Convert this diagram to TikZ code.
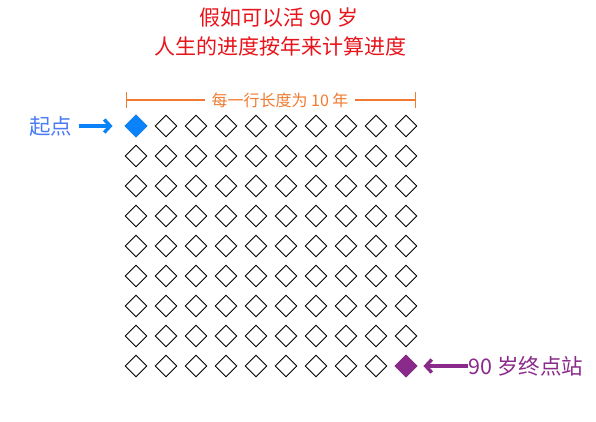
\documentclass[tikz,border=0pt]{standalone}
\usepackage{fontspec}
\setmainfont{Noto Sans CJK SC}
\usetikzlibrary{shapes.geometric, arrows.meta, positioning}

\definecolor{titlered}{HTML}{E8141B}
\definecolor{rulerorange}{HTML}{F07A30}
\definecolor{startblue}{HTML}{0A82FA}
\definecolor{starttext}{HTML}{4B7CF5}
\definecolor{endpurple}{HTML}{8A2A8A}

\begin{document}
\begin{tikzpicture}[
    x=1pt, y=-1pt,
    title/.style={text=titlered, font=\fontsize{21pt}{25pt}\selectfont, inner sep=0pt},
    year/.style={diamond, draw=black, line width=0.9pt, minimum width=22pt, minimum height=22pt, inner sep=0pt},
    ruler/.style={draw=rulerorange, line width=1.4pt},
    rulertext/.style={text=rulerorange, font=\fontsize{16pt}{19pt}\selectfont, inner sep=6pt},
    marktext/.style={font=\fontsize{21.5pt}{25pt}\selectfont, inner sep=0pt},
    markarrow/.style={line width=3.4pt, -{Straight Barb[length=6pt, width=13pt]}}
]
\useasboundingbox (0,0) rectangle (596,422);

% Title
\node[title] (title1) at (279,18) {假如可以活 90 岁};
\node[title] (title2) at (280,46) {人生的进度按年来计算进度};

% One diamond per year
\foreach \r in {1,...,9}
  \foreach \c in {1,...,10}
    \node[year] (d-\r-\c) at ({136+30*(\c-1)}, {126+30*(\r-1)}) {};

% First and last year
\node[year, draw=startblue, fill=startblue] (startyear) at (d-1-1) {};
\node[year, draw=endpurple, fill=endpurple] (lastyear) at (d-9-10) {};

% Ruler over the first row
\coordinate (rulerleft) at (126,100);
\coordinate (rulerright) at (416,100);
\node[rulertext] (rulerlabel) at (280,100) {每一行长度为 10 年};
\draw[ruler, {Bar[width=16pt]}-] (rulerleft) -- (rulerlabel.west);
\draw[ruler, -{Bar[width=16pt]}] (rulerlabel.east) -- (rulerright);

% Labels
\node[marktext, text=starttext, left=52pt of startyear] (startlabel) {起点};
\node[marktext, text=endpurple, right=51pt of lastyear] (endlabel) {90 岁终点站};

% Arrows
\draw[markarrow, startblue, shorten <=6pt, shorten >=12pt] (startlabel) -- (startyear);
\draw[markarrow, endpurple, shorten >=6pt] (endlabel) -- (lastyear);

\end{tikzpicture}
\end{document}
